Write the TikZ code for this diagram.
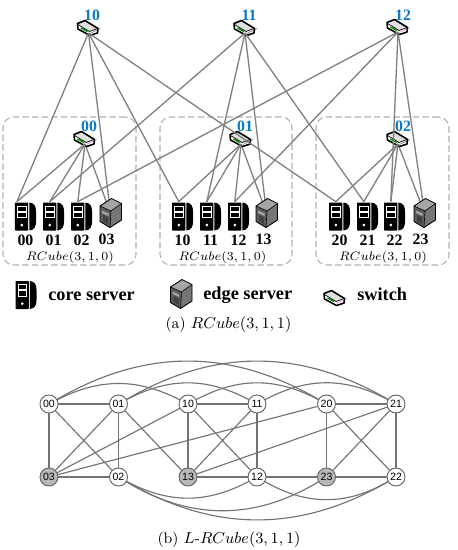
\documentclass[tikz,border=0pt]{standalone}
\usepackage{fontspec}
\usepackage{amsmath}
\usetikzlibrary{positioning, backgrounds}
\newfontfamily\labfont{Liberation Serif}
\newfontfamily\numfont{Liberation Sans}
\definecolor{LK}{RGB}{128,128,128}
\definecolor{BX}{RGB}{176,176,176}
\definecolor{ID}{RGB}{10,120,200}
\definecolor{GN}{RGB}{184,184,184}
\definecolor{EL}{RGB}{165,165,165}
\definecolor{EM}{RGB}{118,118,118}
\definecolor{ED}{RGB}{92,92,92}
\definecolor{LPk}{RGB}{240,150,235}

\begin{document}
\begin{tikzpicture}[
  core/.style={rectangle, inner sep=0pt, minimum width=.42cm, minimum height=.58cm,
    path picture={
      \begin{scope}[shift={(path picture bounding box.center)}]
        \fill[black, rounded corners=.4pt] (-.21,-.28) rectangle (.055,.28);
        \fill[black] (.078,.28) .. controls (.18,.27) and (.21,.2) .. (.21,.1)
          -- (.21,-.1) .. controls (.21,-.2) and (.18,-.27) .. (.078,-.28) -- cycle;
        \draw[white, line width=.35pt] (-.16,.21) rectangle (.01,.11);
        \draw[white, line width=.35pt] (-.16,.09) rectangle (.01,-.02);
        \fill[white] (-.075,-.17) circle (.03);
      \end{scope}}},
  edgesrv/.style={rectangle, inner sep=0pt, minimum width=.46cm, minimum height=.6cm,
    path picture={
      \begin{scope}[shift={(path picture bounding box.center)}]
        \fill[EL] (-.21,.14) -- (.02,.29) -- (.22,.19) -- (.01,.04) -- cycle;
        \fill[ED] (-.21,.14) -- (.01,.04) -- (-.01,-.29) -- (-.21,-.17) -- cycle;
        \fill[EM] (.01,.04) -- (.22,.19) -- (.22,-.14) -- (-.01,-.29) -- cycle;
        \fill[EL] (-.17,.05) -- (-.04,-.01) -- (-.04,-.06) -- (-.17,0) -- cycle;
        \fill[black!75] (-.15,-.04) -- (-.05,-.09) -- (-.05,-.22) -- (-.15,-.16) -- cycle;
        \draw[black, line width=.5pt, line join=round] (-.21,.14) -- (.02,.29) -- (.22,.19)
          -- (.22,-.14) -- (-.01,-.29) -- (-.21,-.17) -- cycle;
        \draw[black, line width=.35pt] (-.21,.14) -- (.01,.04) -- (.22,.19) (.01,.04) -- (-.01,-.29);
      \end{scope}}},
  switch/.style={rectangle, inner sep=0pt, minimum width=.5cm, minimum height=.54cm,
    path picture={
      \begin{scope}[shift={(path picture bounding box.center)}]
        \fill[white] (-.22,.19) -- (-.07,.25) -- (.19,.09) -- (.18,0) -- (.03,-.05) -- (-.21,.08) -- cycle;
        \fill[black!12] (-.2,.18) -- (-.07,.24) -- (.17,.09) -- (.02,.03) -- cycle;
        \draw[#1, line width=.4pt] (.03,-.01) -- (.24,.09);
        \draw[black, line width=.9pt, line join=round] (-.22,.19) -- (-.07,.25) -- (.19,.09)
          -- (.18,0) -- (.03,-.05) -- (-.21,.08) -- cycle;
        \draw[black, line width=.4pt] (-.21,.17) -- (.02,.03) -- (.18,.09);
        \draw[green!55!black, line width=.8pt] (-.15,.1) -- (-.02,.03);
      \end{scope}}},
  switch/.default=LK,
  gid/.style={font=\labfont\bfseries\fontsize{9}{10}\selectfont, text=ID, inner sep=0pt},
  sid/.style={font=\labfont\bfseries\fontsize{9}{10}\selectfont, inner sep=0pt},
  leg/.style={font=\labfont\bfseries\fontsize{10.4}{11}\selectfont, inner sep=0pt},
  captxt/.style={font=\fontsize{8.7}{10}\selectfont, inner sep=0pt},
  rc/.style={font=\fontsize{6.6}{8}\selectfont, inner sep=0pt},
  group/.style={draw=BX, dash pattern=on 3.7pt off 1.8pt, rounded corners=6pt, line width=.6pt},
  link/.style={draw=LK, line width=.75pt},
  vtx/.style={draw=black!60, circle, fill=#1, minimum size=.36cm, inner sep=0pt, line width=.55pt,
              font=\numfont\fontsize{6}{7}\selectfont},
  vtx/.default=white,
  wire/.style={draw=black!55, line width=.65pt}
]
\useasboundingbox (0,0) rectangle (9.14,-11);

\node[group, minimum width=2.66cm, minimum height=2.96cm] (g0) at (1.39,-3.82) {};
\node[group, minimum width=2.64cm, minimum height=2.96cm] (g1) at (4.52,-3.82) {};
\node[group, minimum width=2.66cm, minimum height=2.96cm] (g2) at (7.65,-3.82) {};

\node[switch]     (c10) at (1.77,-.66) {};
\node[switch]     (c11) at (4.90,-.66) {};
\node[switch=LPk] (c12) at (7.96,-.64) {};
\node[switch=LPk] (c00) at (1.70,-2.88) {};
\node[switch]     (c01) at (4.82,-2.88) {};
\node[switch]     (c02) at (7.96,-2.88) {};

\node[gid] (t10) at (1.84,-.30) {10};
\node[gid] (t11) at (4.98,-.30) {11};
\node[gid] (t12) at (8.06,-.30) {12};
\node[gid] (t00) at (1.78,-2.53) {00};
\node[gid] (t01) at (4.90,-2.53) {01};
\node[gid] (t02) at (8.06,-2.53) {02};

\node[core] (s00) at (.51,-4.33) {};
\node[core] (s01) at (1.07,-4.33) {};
\node[core] (s02) at (1.63,-4.33) {};
\node[edgesrv] (s03) at (2.21,-4.26) {};
\node[core] (s10) at (3.65,-4.33) {};
\node[core] (s11) at (4.21,-4.33) {};
\node[core] (s12) at (4.77,-4.33) {};
\node[edgesrv] (s13) at (5.33,-4.26) {};
\node[core] (s20) at (6.79,-4.33) {};
\node[core] (s21) at (7.35,-4.33) {};
\node[core] (s22) at (7.89,-4.33) {};
\node[edgesrv] (s23) at (8.49,-4.26) {};

\node[sid, below=.06cm of s00] (n00) {00};
\node[sid, below=.06cm of s01] (n01) {01};
\node[sid, below=.06cm of s02] (n02) {02};
\node[sid] (n03) at (2.13,-4.79) {03};
\node[sid, below=.06cm of s10] (n10) {10};
\node[sid, below=.06cm of s11] (n11) {11};
\node[sid, below=.06cm of s12] (n12) {12};
\node[sid] (n13) at (5.27,-4.79) {13};
\node[sid, below=.06cm of s20] (n20) {20};
\node[sid, below=.06cm of s21] (n21) {21};
\node[sid, below=.06cm of s22] (n22) {22};
\node[sid] (n23) at (8.41,-4.79) {23};

\node[rc] (r0) at (1.40,-5.14) {$RCube(3,1,0)$};
\node[rc] (r1) at (4.45,-5.14) {$RCube(3,1,0)$};
\node[rc] (r2) at (7.66,-5.14) {$RCube(3,1,0)$};

\draw[link] (c10.center)--(s00.120);
\draw[link] (c10.center)--(s10.104);
\draw[link] (c10.center)--(s20.104);
\draw[link] (c11.center)--(s01.104);
\draw[link] (c11.center)--(s11.104);
\draw[link] (c11.center)--(s21.104);
\draw[link] (c12.center)--(s02.104);
\draw[link] (c12.center)--(s12.104);
\draw[link] (c12.center)--(s22.104);
\draw[link] (c00.center)--(s00.120);
\draw[link] (c00.center)--(s01.104);
\draw[link] (c00.center)--(s02.104);
\draw[link] (c01.center)--(s10.104);
\draw[link] (c01.center)--(s11.104);
\draw[link] (c01.center)--(s12.104);
\draw[link] (c02.center)--(s20.104);
\draw[link] (c02.center)--(s21.104);
\draw[link] (c02.center)--(s22.104);
\begin{scope}[on background layer]
\draw[link] (c10.center)--(s03.center);
\draw[link] (c11.center)--(s13.center);
\draw[link] (c12.center)--(s23.center);
\draw[link] (c00.center)--(s03.center);
\draw[link] (c01.center)--(s13.center);
\draw[link] (c02.center)--(s23.center);
\end{scope}

\node[core] (k0) at (.52,-5.90) {};
\node[leg, anchor=west] (k0t) at (.96,-5.92) {core server};
\node[edgesrv] (k1) at (3.62,-5.88) {};
\node[leg, anchor=west] (k1t) at (4.06,-5.90) {edge server};
\node[switch=LPk] (k2) at (6.70,-6.06) {};
\node[leg, anchor=west] (k2t) at (7.14,-5.88) {switch};
\node[captxt] (ca) at (4.57,-6.50) {(a) $RCube(3,1,1)$};

\node[vtx]     (v00) at (.98,-8.08) {00};
\node[vtx]     (v01) at (2.37,-8.08) {01};
\node[vtx]     (v10) at (3.76,-8.08) {10};
\node[vtx]     (v11) at (5.14,-8.08) {11};
\node[vtx]     (v20) at (6.53,-8.08) {20};
\node[vtx]     (v21) at (7.92,-8.08) {21};
\node[vtx=GN]  (v03) at (.98,-9.54) {03};
\node[vtx]     (v02) at (2.37,-9.54) {02};
\node[vtx=GN]  (v13) at (3.76,-9.54) {13};
\node[vtx]     (v12) at (5.14,-9.54) {12};
\node[vtx=GN]  (v23) at (6.53,-9.54) {23};
\node[vtx]     (v22) at (7.92,-9.54) {22};

\draw[wire] (v00)--(v01);
\draw[wire] (v10)--(v11);
\draw[wire] (v20)--(v21);
\draw[wire] (v03)--(v02);
\draw[wire] (v13)--(v12);
\draw[wire] (v12)--(v23);
\draw[wire] (v23)--(v22);
\draw[wire] (v00)--(v03);
\draw[wire] (v01)--(v02);
\draw[wire] (v10)--(v13);
\draw[wire] (v11)--(v12);
\draw[wire] (v20)--(v23);
\draw[wire] (v21)--(v22);
\draw[wire] (v00)--(v02);
\draw[wire] (v01)--(v03);
\draw[wire] (v01)--(v13);
\draw[wire] (v10)--(v12);
\draw[wire] (v10)--(v03);
\draw[wire] (v11)--(v13);
\draw[wire] (v20)--(v03);
\draw[wire] (v20)--(v22);
\draw[wire] (v21)--(v13);
\draw[wire] (v21)--(v23);
\draw[wire] (v00) to[bend left=27] (v10);
\draw[wire] (v00) to[bend left=30] (v20);
\draw[wire] (v10) to[bend left=28] (v20);
\draw[wire] (v01) to[bend left=28] (v11);
\draw[wire] (v01) to[bend left=30] (v21);
\draw[wire] (v11) to[bend left=28] (v21);
\draw[wire] (v02) to[bend right=28] (v12);
\draw[wire] (v02) to[bend right=31] (v23);
\draw[wire] (v02) to[bend right=30] (v22);
\draw[wire] (v12) to[bend right=30] (v22);
\node[captxt] (cb) at (4.58,-10.80) {(b) $L$-$RCube(3,1,1)$};
\end{tikzpicture}
\end{document}
